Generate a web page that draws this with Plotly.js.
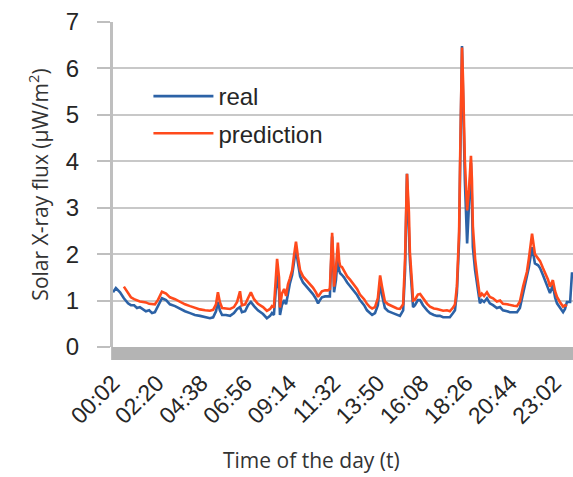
<!DOCTYPE html>
<html>
<head>
<meta charset="utf-8">
<script src="https://cdn.plot.ly/plotly-3.0.1.min.js"></script>
<style>html,body{margin:0;padding:0;background:#fff;}#chart{width:573px;height:477px;}</style>
</head>
<body>
<div id="chart"></div>
<script>
// minutes since midnight
const minutes = [
  2, 11, 24, 36, 49, 58, 68, 77, 86, 96,
  105, 115, 124, 133, 143, 155, 168, 180, 196, 211,
  227, 243, 258, 274, 290, 305, 315, 324, 330, 336,
  343, 355, 368, 380, 390, 399, 405, 415, 424, 433,
  443, 455, 471, 483, 493, 499, 505, 512, 515, 521,
  524, 530, 537, 543, 549, 555, 562, 568, 574, 580,
  587, 596, 608, 618, 627, 637, 643, 649, 655, 665,
  674, 680, 683, 687, 690, 693, 699, 705, 709, 712,
  718, 724, 734, 743, 752, 765, 774, 787, 796, 805,
  812, 821, 830, 837, 843, 852, 862, 877, 890, 899,
  909, 915, 921, 927, 930, 937, 940, 946, 955, 962,
  971, 984, 993, 1005, 1015, 1024, 1034, 1046, 1055, 1065,
  1071, 1077, 1084, 1087, 1090, 1093, 1096, 1102, 1109, 1115,
  1121, 1124, 1127, 1134, 1140, 1146, 1149, 1155, 1162, 1171,
  1180, 1190, 1202, 1212, 1221, 1234, 1243, 1255, 1265, 1274,
  1284, 1296, 1302, 1312, 1321, 1331, 1337, 1346, 1352, 1362,
  1368, 1377, 1384, 1390, 1399, 1409, 1415, 1421, 1431, 1437
];
const real = [
  1.18, 1.27, 1.18, 1.05, 0.94, 0.90, 0.90, 0.84, 0.86, 0.82,
  0.77, 0.79, 0.73, 0.75, 0.88, 1.05, 1.01, 0.92, 0.88, 0.82,
  0.77, 0.73, 0.69, 0.67, 0.64, 0.62, 0.64, 0.77, 0.97, 0.79,
  0.69, 0.69, 0.67, 0.73, 0.82, 0.86, 0.75, 0.77, 0.90, 0.97,
  0.88, 0.79, 0.71, 0.62, 0.67, 0.73, 0.69, 1.22, 1.59, 1.22,
  0.69, 0.90, 1.01, 0.92, 1.18, 1.37, 1.55, 1.87, 2.12, 1.82,
  1.52, 1.39, 1.29, 1.22, 1.14, 1.03, 0.94, 1.01, 1.07, 1.09,
  1.09, 1.09, 1.65, 2.38, 1.87, 1.18, 1.44, 1.97, 1.65, 1.59,
  1.55, 1.50, 1.39, 1.31, 1.22, 1.12, 1.01, 0.90, 0.79, 0.73,
  0.69, 0.73, 0.90, 1.39, 1.12, 0.84, 0.77, 0.73, 0.69, 0.67,
  0.79, 1.65, 3.73, 2.73, 1.87, 1.16, 0.86, 0.90, 1.01, 1.01,
  0.90, 0.79, 0.73, 0.69, 0.67, 0.67, 0.64, 0.64, 0.64, 0.73,
  0.79, 1.16, 2.30, 3.80, 5.36, 6.48, 5.52, 3.58, 2.23, 3.15,
  3.97, 3.15, 2.15, 1.65, 1.37, 1.05, 0.94, 1.01, 0.97, 1.05,
  0.94, 0.90, 0.84, 0.86, 0.79, 0.77, 0.75, 0.75, 0.75, 0.84,
  1.16, 1.48, 1.72, 2.15, 1.80, 1.76, 1.70, 1.55, 1.44, 1.29,
  1.16, 1.33, 1.07, 0.94, 0.84, 0.75, 0.82, 0.97, 0.97, 1.61
];
const prediction = [
  null, null, null, 1.30, 1.15, 1.07, 1.03, 1.00, 0.98, 0.97,
  0.96, 0.93, 0.92, 0.92, 1.02, 1.19, 1.15, 1.07, 1.03, 0.97,
  0.92, 0.88, 0.84, 0.81, 0.79, 0.78, 0.80, 0.92, 1.18, 0.97,
  0.84, 0.83, 0.82, 0.86, 0.97, 1.20, 0.90, 0.92, 1.05, 1.18,
  1.03, 0.93, 0.86, 0.78, 0.82, 0.88, 0.85, 1.45, 1.90, 1.50,
  0.85, 1.15, 1.25, 1.10, 1.35, 1.48, 1.65, 1.98, 2.27, 1.95,
  1.65, 1.52, 1.42, 1.35, 1.28, 1.17, 1.08, 1.14, 1.20, 1.22,
  1.22, 1.25, 1.90, 2.46, 2.00, 1.30, 1.70, 2.25, 1.85, 1.75,
  1.72, 1.65, 1.52, 1.45, 1.36, 1.25, 1.13, 1.03, 0.93, 0.86,
  0.83, 0.86, 1.05, 1.54, 1.30, 0.98, 0.92, 0.87, 0.83, 0.82,
  0.92, 1.90, 3.73, 2.90, 2.05, 1.35, 1.00, 1.02, 1.13, 1.14,
  1.05, 0.93, 0.87, 0.83, 0.82, 0.80, 0.78, 0.79, 0.77, 0.85,
  0.92, 1.30, 2.50, 4.00, 5.50, 6.45, 5.80, 4.00, 2.94, 3.40,
  4.12, 3.60, 2.60, 1.90, 1.55, 1.20, 1.08, 1.15, 1.10, 1.18,
  1.08, 1.05, 0.98, 1.00, 0.93, 0.92, 0.90, 0.89, 0.88, 0.98,
  1.30, 1.62, 1.90, 2.44, 2.00, 1.92, 1.85, 1.70, 1.60, 1.45,
  1.30, 1.44, 1.20, 1.08, 0.97, 0.87, 0.90, 0.88, null, null
];
const tickMinutes = [2, 140, 278, 416, 554, 692, 830, 968, 1106, 1244, 1382];
const tickLabels = ["00:02", "02:20", "04:38", "06:56", "09:14", "11:32", "13:50", "16:08", "18:26", "20:44", "23:02"];
const xTitle = "Time of the day (t)";
const yTitle = "Solar X-ray flux (μW/m<sup>2</sup>)";

const traces = [
  {x: minutes, y: real, name: "real", legendgroup: "a", type: "scatter", mode: "lines",
   line: {color: "#2C62A6", width: 2.6}},
  {x: minutes, y: prediction, name: "prediction", legendgroup: "b", type: "scatter", mode: "lines",
   line: {color: "#FF4A1C", width: 2.6}}
];

const layout = {
  width: 573, height: 477,
  margin: {l: 113, r: 0, t: 22, b: 130},
  paper_bgcolor: "#fff", plot_bgcolor: "#fff",
  showlegend: true,
  legend: {x: 0.077, y: 0.84, xanchor: "left", yanchor: "top",
           bgcolor: "rgba(255,255,255,0)", borderwidth: 0,
           font: {family: "Liberation Sans, Arial, sans-serif", size: 24, color: "#262626"},
           itemwidth: 60, tracegroupgap: 3},
  xaxis: {
    range: [2, 1440], tickvals: tickMinutes, ticktext: tickLabels,
    tickangle: -45, showgrid: false, zeroline: false, showline: false,
    ticks: "", ticklabelstandoff: 17,
    tickfont: {family: "Liberation Sans, Arial, sans-serif", size: 23, color: "#262626"}
  },
  yaxis: {
    range: [0, 7], dtick: 1, tick0: 0,
    showgrid: true, gridcolor: "#C8C8C8", gridwidth: 2,
    zeroline: false, showline: true, linecolor: "#BFBFBF", linewidth: 3,
    ticks: "outside", ticklen: 13, tickcolor: "#BFBFBF", tickwidth: 2,
    ticklabelstandoff: 13,
    tickfont: {family: "Liberation Sans, Arial, sans-serif", size: 24, color: "#262626"},
    title: {text: yTitle, standoff: 12,
            font: {family: "Open Sans, sans-serif", size: 21, color: "#333"}}
  },
  annotations: [
    {text: xTitle, xref: "paper", yref: "paper", x: (311 - 113) / 460, y: -(475 - 347) / 325,
     xanchor: "center", yanchor: "bottom", showarrow: false, borderpad: 0,
     font: {family: "Open Sans, sans-serif", size: 21, color: "#333"}}
  ],
  shapes: [
    {type: "rect", xref: "paper", yref: "paper", x0: 0.048, x1: 0.526, y0: 0.498, y1: 0.945,
     fillcolor: "#fff", line: {width: 0}, layer: "between"},
    {type: "rect", xref: "paper", yref: "paper", x0: -0.004, x1: 1, y0: -0.04, y1: 0,
     fillcolor: "#B4B4B4", line: {width: 0}, layer: "above"}
  ]
};

Plotly.newPlot("chart", traces, layout, {displayModeBar: false, staticPlot: true});
</script>
</body>
</html>
